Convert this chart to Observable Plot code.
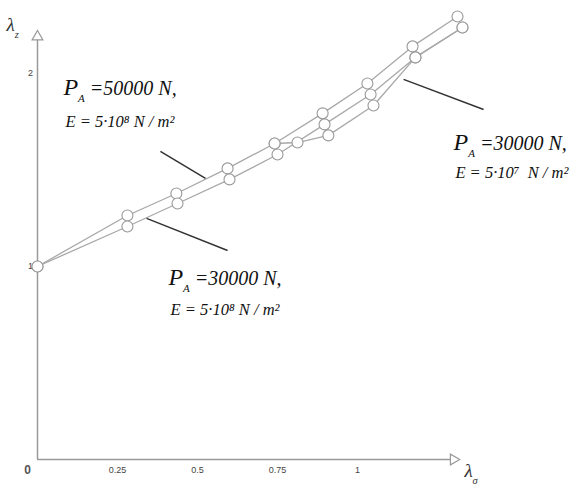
<!DOCTYPE html>
<html>
<head>
<meta charset="utf-8">
<script src="https://cdn.jsdelivr.net/npm/d3@7"></script>
<script src="https://cdn.jsdelivr.net/npm/@observablehq/plot@0.6"></script>
<style>
  html, body { margin: 0; padding: 0; background: #fff; }
  #chart svg { display: block; }
</style>
</head>
<body>
<div id="chart"></div>
<script>
// ---- data (λσ, λz) ----
const seriesA_x = [0, 0.281, 0.434, 0.594, 0.741, 0.891, 1.031, 1.172, 1.3125]; // P=50000 N, E=5·10⁸
const seriesA_y = [1.0, 1.264, 1.378, 1.508, 1.637, 1.793, 1.948, 2.140, 2.295];
const seriesB_x = [0, 0.281, 0.4375, 0.600, 0.750, 0.897, 1.041, 1.181, 1.328]; // P=30000 N, E=5·10⁸
const seriesB_y = [1.0, 1.207, 1.326, 1.451, 1.580, 1.736, 1.891, 2.083, 2.238];
const seriesC_x = [0.741, 0.8125, 0.909, 1.050, 1.181, 1.328];                 // P=30000 N, E=5·10⁷
const seriesC_y = [1.637, 1.642, 1.679, 1.834, 2.083, 2.238];

const xTickValues = [0.25, 0.5, 0.75, 1];
const xTickLabels = ["0.25", "0.5", "0.75", "1"];
const yTickValues = [1, 2];
const yTickLabels = ["1", "2"];

// annotations: "|" separates parts, "_" = subscript, "+" = enlarged
const annotP = ["+P|_A| =50000 N,", "+P|_A| =30000 N,", "+P|_A| =30000 N,"];
const annotE = ["E = 5·10⁸ N / m²", "E = 5·10⁸ N / m²", "E = 5·10⁷  N / m²"];
const annotPX = [0.081, 0.409, 1.300];
const annotPY = [1.886, 0.902, 1.601];
const annotEX = [0.0875, 0.416, 1.306];
const annotEY = [1.720, 0.746, 1.456];
const leaderX1 = [0.384, 0.341, 1.144];
const leaderY1 = [1.596, 1.249, 1.969];
const leaderX2 = [0.525, 0.594, 1.394];
const leaderY2 = [1.456, 1.083, 1.813];

// ---- build tables ----
const zip = (xs, ys, s) => xs.map((x, i) => ({x, y: ys[i], s}));
const A = zip(seriesA_x, seriesA_y, "A");
const B = zip(seriesB_x, seriesB_y, "B");
const C = zip(seriesC_x, seriesC_y, "C");
const xTicks = xTickValues.map((v, i) => ({v, t: xTickLabels[i]}));
const yTicks = yTickValues.map((v, i) => ({v, t: yTickLabels[i]}));
const annP = annotP.map((t, i) => ({t, x: annotPX[i], y: annotPY[i]}));
const annE = annotE.map((t, i) => ({t, x: annotEX[i], y: annotEY[i]}));
const leaders = leaderX1.map((x1, i) => ({x1, y1: leaderY1[i], x2: leaderX2[i], y2: leaderY2[i]}));

const axisColor = "#9a9a9a";
const lineColor = "#a8a8a8";
const serif = "'Liberation Serif', 'Times New Roman', serif";

const chart = Plot.plot({
  width: 580,
  height: 485,
  marginLeft: 37,
  marginRight: 23,
  marginTop: 15,
  marginBottom: 26,
  x: {domain: [0, 1.625], axis: null},
  y: {domain: [0, 2.3], axis: null},
  style: {background: "white", fontFamily: "'Liberation Sans', Arial, sans-serif"},
  marks: [
    // axes
    Plot.ruleY([0], {x1: 0, x2: 1.31, stroke: axisColor, strokeWidth: 1.5}),
    Plot.ruleX([0], {y1: 0, y2: 2.2, stroke: axisColor, strokeWidth: 1.5}),
    Plot.dot([0], {x: 1.30, y: 0, symbol: "triangle", rotate: 90, r: 4, fill: "white", stroke: axisColor, strokeWidth: 1.2}),
    Plot.dot([0], {x: 0, y: 2.19, symbol: "triangle", r: 4, fill: "white", stroke: axisColor, strokeWidth: 1.2}),
    // tick labels
    Plot.text(xTicks, {x: "v", y: 0, text: "t", dy: 11, fontSize: 9, fill: "#444"}),
    Plot.text(yTicks, {x: 0, y: "v", text: "t", dx: -7, fontSize: 9, fill: "#444"}),
    Plot.text(["0"], {x: 0, y: 0, text: d => d, dx: -10, dy: 11, fontSize: 12, fontWeight: "bold", fill: "#555"}),
    // axis titles
    Plot.text(["λ|_z"], {x: -0.097, y: 2.22, text: d => d, textAnchor: "start", lineAnchor: "bottom", fontSize: 19, fontStyle: "italic", fontFamily: serif, fill: "#333"}),
    Plot.text(["λ|_σ"], {x: 1.334, y: -0.09, text: d => d, textAnchor: "start", lineAnchor: "bottom", fontSize: 19, fontStyle: "italic", fontFamily: serif, fill: "#333"}),
    // series lines
    Plot.line(A, {x: "x", y: "y", stroke: lineColor, strokeWidth: 1.3}),
    Plot.line(B, {x: "x", y: "y", stroke: lineColor, strokeWidth: 1.3}),
    Plot.line(C, {x: "x", y: "y", stroke: lineColor, strokeWidth: 1.3}),
    // markers
    Plot.dot(A, {x: "x", y: "y", r: 5.5, fill: "white", stroke: "#999", strokeWidth: 1.1}),
    Plot.dot(B, {x: "x", y: "y", r: 5.5, fill: "white", stroke: "#999", strokeWidth: 1.1}),
    Plot.dot(C, {x: "x", y: "y", r: 5.5, fill: "white", stroke: "#999", strokeWidth: 1.1}),
    // leader lines
    Plot.link(leaders, {x1: "x1", y1: "y1", x2: "x2", y2: "y2", stroke: "#333", strokeWidth: 1.5}),
    // annotations
    Plot.text(annP, {x: "x", y: "y", text: "t", textAnchor: "start", lineAnchor: "bottom", fontSize: 20, fontStyle: "italic", fontFamily: serif, fill: "#111"}),
    Plot.text(annE, {x: "x", y: "y", text: "t", textAnchor: "start", lineAnchor: "bottom", fontSize: 16.5, fontStyle: "italic", fontFamily: serif, fill: "#111"})
  ]
});

// turn "a|_b|c" strings into tspans with sub/enlarged parts
function richify(root) {
  root.querySelectorAll("text").forEach(t => {
    const s = t.textContent;
    if (!s.includes("|")) return;
    const holder = t.closest("[font-size]");
    const fs = (holder && parseFloat(holder.getAttribute("font-size"))) || parseFloat(getComputedStyle(t).fontSize) || 12;
    while (t.firstChild) t.removeChild(t.firstChild);
    let shift = 0;
    s.split("|").forEach(part => {
      const ts = document.createElementNS("http://www.w3.org/2000/svg", "tspan");
      let size = fs, target = 0, txt = part;
      if (part[0] === "_") { size = fs * 0.55; target = fs * 0.35; txt = part.slice(1); }
      else if (part[0] === "+") { size = fs * 1.2; txt = part.slice(1); }
      ts.setAttribute("font-size", size);
      if (target !== shift) { ts.setAttribute("dy", target - shift); shift = target; }
      ts.textContent = txt;
      t.appendChild(ts);
    });
  });
}

document.getElementById("chart").appendChild(chart);
richify(chart);
</script>
</body>
</html>
